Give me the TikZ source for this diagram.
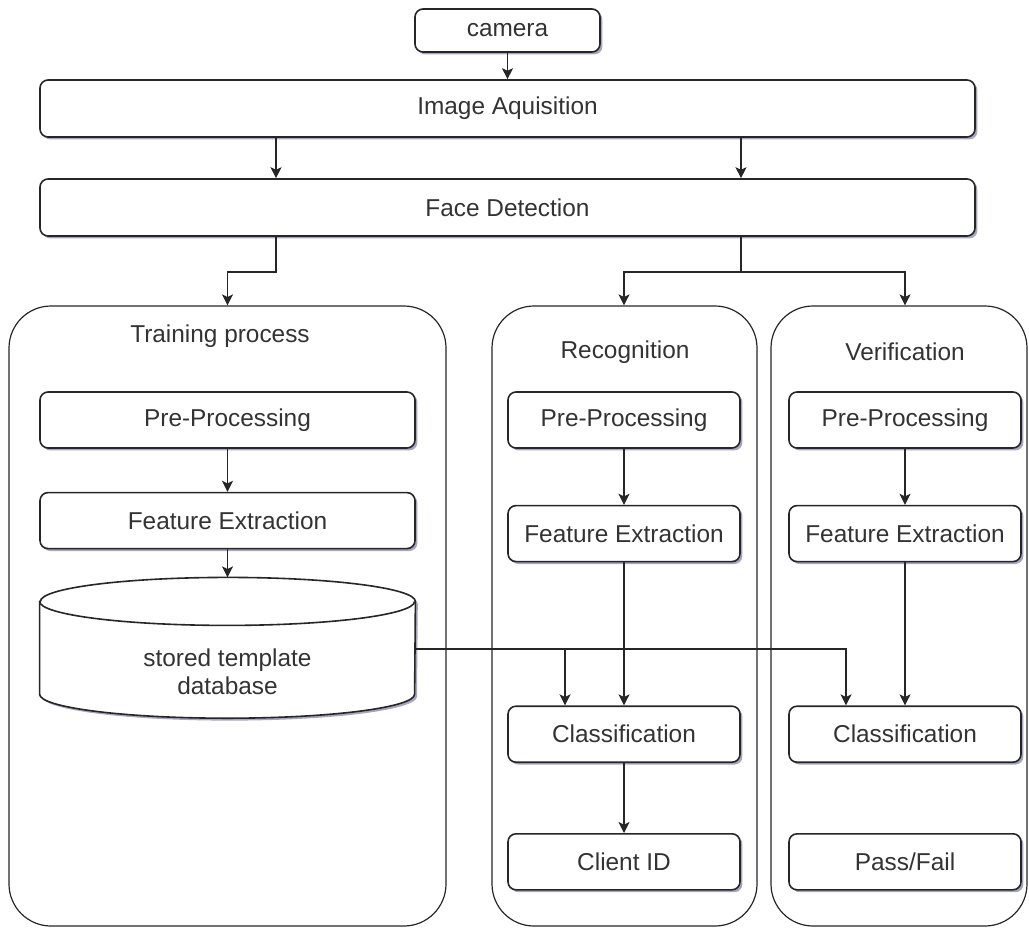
\documentclass[tikz,border=0pt]{standalone}
\usepackage{fontspec}
\setmainfont{Liberation Sans}
\usetikzlibrary{positioning,arrows.meta,shadows,backgrounds}
\tikzstyle{block} = [rectangle, draw=black!85, line width=0.8pt, fill=white,
    rounded corners=4pt, minimum height=28pt, text=black!80,
    drop shadow={shadow xshift=1.2pt, shadow yshift=-1.2pt, opacity=0.35, fill=black!70!blue}]
\tikzstyle{container} = [rectangle, draw=black!85, line width=0.6pt, rounded corners=21pt, minimum height=310pt]
\tikzstyle{heading} = [text=black!80]
\tikzstyle{dbshape} = [draw=black!85, line width=0.8pt]
\tikzstyle{line} = [draw=black!85, line width=0.7pt, -{Stealth[length=5.5pt,width=5.5pt,inset=1.3pt]}]

\begin{document}
\begin{tikzpicture}[x=1pt, y=1pt, font=\fontsize{12.2}{14}\selectfont]
	\useasboundingbox (0,0) rectangle (514.5,-464);

		% input stages
		\node [block, minimum width=92.5pt, minimum height=21.5pt] (camera) at (253.75,-15.25) {camera};
		\node [block, minimum width=467.5pt, minimum height=28.5pt] (acq) at (253.75,-54.25) {Image Aquisition};
		\node [block, minimum width=467.5pt, minimum height=28.5pt] (face) at (253.75,-103.75) {Face Detection};

		% three containers
		\node [container, minimum width=218.5pt] (train) at (113.75,-308) {};
		\node [container, minimum width=132.5pt] (recog) at (312.25,-308) {};
		\node [container, minimum width=128pt] (verif) at (449.5,-308) {};

		\node [heading] (traintitle) at (110,-168) {Training process};
		\node [heading] (recogtitle) at (312.5,-176) {Recognition};
		\node [heading] (veriftitle) at (452.5,-176) {Verification};

		% training
		\node [block, minimum width=187.5pt] (trpre) at (113.75,-210) {Pre-Processing};
		\node [block, minimum width=187.5pt, below=21.5pt of trpre] (trfeat) {Feature Extraction};
		\node [minimum width=187.5pt, minimum height=46pt, align=center, text=black!80, below=38pt of trfeat] (db) {stored template\\database};
		\coordinate (dbtop) at ([yshift=24pt]db.north);
		\coordinate (dbout) at ([yshift=11.5pt]db.east);

		\begin{scope}[on background layer]
		\draw [dbshape, fill=white, drop shadow={shadow xshift=1.2pt, shadow yshift=-1.2pt, opacity=0.35, fill=black!70!blue}]
			([yshift=12pt]db.north west) -- ([yshift=12pt]db.south west)
			arc [start angle=180, end angle=360, x radius=93.75pt, y radius=12pt]
			-- ([yshift=12pt]db.north east)
			arc [start angle=0, end angle=180, x radius=93.75pt, y radius=12pt] -- cycle;
		\draw [dbshape] ([yshift=12pt]db.north west) arc [start angle=180, end angle=360, x radius=93.75pt, y radius=12pt];
		\end{scope}

		% recognition
		\node [block, minimum width=116pt] (rpre) at (312,-210) {Pre-Processing};
		\node [block, minimum width=116pt, below=28pt of rpre] (rfeat) {Feature Extraction};
		\node [block, minimum width=116pt, below=71.5pt of rfeat] (rclass) {Classification};
		\node [block, minimum width=116pt, below=35pt of rclass] (client) {Client ID};

		% verification
		\node [block, minimum width=116pt] (vpre) at (452.5,-210) {Pre-Processing};
		\node [block, minimum width=116pt, below=28pt of vpre] (vfeat) {Feature Extraction};
		\node [block, minimum width=116pt, below=71.5pt of vfeat] (vclass) {Classification};
		\node [block, minimum width=116pt, below=35pt of vclass] (passfail) {Pass/Fail};

		% connectors
		\path [line] (camera) -- (acq);
		\path [line] ([xshift=-115.75pt]acq.south) -- ([xshift=-115.75pt]face.north);
		\path [line] ([xshift=116.75pt]acq.south) -- ([xshift=116.75pt]face.north);
		\path [line] ([xshift=-115.75pt]face.south) -- ++(0,-17.5) -| (train.north);
		\draw [draw=black!85, line width=0.7pt] ([xshift=116.75pt]face.south) -- ++(0,-17.5) coordinate (fork);
		\path [line] (fork) -| (rpre.north |- recog.north);
		\path [line] (fork) -| (vpre.north |- verif.north);

		\path [line] (trpre) -- (trfeat);
		\path [line] (trfeat) -- (dbtop);

		\path [line] (rpre) -- (rfeat);
		\path [line] (rfeat) -- (rclass);
		\path [line] (rclass) -- (client);
		\path [line] (vpre) -- (vfeat);
		\path [line] (vfeat) -- (vclass);

		\coordinate (rjoin) at ([xshift=-29.5pt]rclass.north);
		\coordinate (vjoin) at ([xshift=-29.5pt]vclass.north);
		\path [line] (dbout) -| (vjoin);
		\path [line] (rjoin |- dbout) -- (rjoin);
	\end{tikzpicture}
\end{document}
